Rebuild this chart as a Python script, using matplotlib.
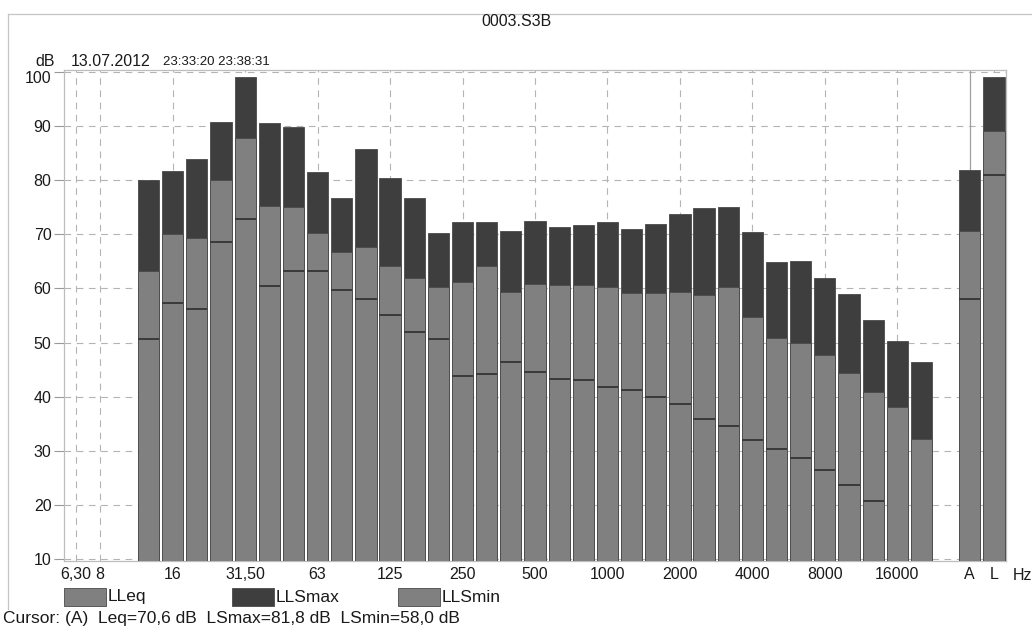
import numpy as np
import matplotlib
matplotlib.use('Agg')
import matplotlib.pyplot as plt
import matplotlib.transforms as mtransforms
from matplotlib.patches import Rectangle
from matplotlib.lines import Line2D

plt.rcParams['font.family'] = ['Liberation Sans', 'DejaVu Sans']

# 1/3-octave bands (6.3 Hz .. 20 kHz), an empty slot, then A and L totals
bands = ['6,3', '8', '10', '12,5', '16', '20', '25', '31,5', '40', '50', '63', '80',
         '100', '125', '160', '200', '250', '315', '400', '500', '630', '800',
         '1000', '1250', '1600', '2000', '2500', '3150', '4000', '5000', '6300',
         '8000', '10000', '12500', '16000', '20000', '', 'A', 'L']
nan = np.nan
ls_max = [nan, nan, nan, 80.0, 81.7, 83.8, 90.7, 99.0, 90.6, 89.8, 81.5, 76.7,
          85.8, 80.4, 76.7, 70.2, 72.2, 72.2, 70.6, 72.4, 71.4, 71.7,
          72.2, 70.9, 71.9, 73.8, 74.9, 75.1, 70.4, 64.9, 65.0,
          62.0, 59.0, 54.1, 50.3, 46.4, nan, 81.8, 99.1]
l_eq = [nan, nan, nan, 63.3, 70.0, 69.3, 80.0, 87.8, 75.2, 75.0, 70.3, 66.7,
        67.7, 64.1, 61.9, 60.3, 61.2, 64.2, 59.4, 60.9, 60.6, 60.7,
        60.3, 59.1, 59.2, 59.3, 58.7, 60.3, 54.7, 50.9, 50.0,
        47.7, 44.4, 40.9, 38.1, 32.3, nan, 70.6, 89.1]
ls_min = [nan, nan, nan, 50.6, 57.4, 56.2, 68.6, 72.8, 60.4, 63.3, 63.2, 59.8,
          58.0, 55.1, 51.9, 50.6, 43.9, 44.2, 46.5, 44.6, 43.2, 43.1,
          41.9, 41.2, 39.9, 38.6, 35.9, 34.7, 32.1, 30.3, 28.8,
          26.5, 23.8, 20.8, nan, nan, nan, 58.0, 80.9]

tick_bands = ['6,3', '8', '16', '31,5', '63', '125', '250', '500', '1000', '2000',
              '4000', '8000', '16000', 'A', 'L']
tick_labels = ['6,30', '8', '16', '31,50', '63', '125', '250', '500', '1000', '2000',
               '4000', '8000', '16000', 'A', 'L']
y_ticks = [10, 20, 30, 40, 50, 60, 70, 80, 90, 100]
legend_names = ['LLeq', 'LLSmax', 'LLSmin']
cursor_text = 'Cursor: (A)  Leq=70,6 dB  LSmax=81,8 dB  LSmin=58,0 dB'

DARK = '#3e3e3e'
GREY = '#808080'
EDGE = '#4a4a4a'
GRID = '#b4b4b4'
TXT = '#1a1a1a'

W, H = 1032, 628
fig = plt.figure(figsize=(W / 100, H / 100), dpi=100)
ax = fig.add_axes([64 / W, 1 - 560.5 / H, (1006 - 64) / W, (560.5 - 70) / H])

x = np.arange(len(bands))
mx = np.array(ls_max)
eq = np.array(l_eq)
mn = np.array(ls_min)
bw = 0.88

# grid first, under the bars
tick_pos = [bands.index(b) for b in tick_bands]
for yv in y_ticks:
    ax.axhline(yv, color=GRID, lw=0.8, ls=(0, (6, 5)), zorder=0)
for p, b in zip(tick_pos, tick_bands):
    if b == 'A':
        # cursor line
        ax.axvline(p, color='#a0a0a0', lw=0.9, zorder=0)
    else:
        ax.axvline(p, color=GRID, lw=0.8, ls=(0, (6, 5)), zorder=0)

ax.bar(x, mx, width=bw, bottom=0, color=DARK, edgecolor=EDGE, lw=0.6, zorder=2)
ax.bar(x, eq, width=bw, bottom=0, color=GREY, edgecolor=EDGE, lw=0.6, zorder=3)
ok = ~np.isnan(mn)
ax.hlines(mn[ok], x[ok] - bw / 2, x[ok] + bw / 2, colors='#3a3a3a', lw=1.4, zorder=4)

ax.set_xlim(-0.5, len(bands) - 0.5)
ax.set_ylim(9.8, 100.3)
ax.set_yticks(y_ticks)
ax.set_yticklabels([str(v) for v in y_ticks], fontsize=11.5, color=TXT)
ax.set_xticks(tick_pos)
ax.set_xticklabels(tick_labels, fontsize=11.5, color=TXT)
ax.tick_params(axis='y', length=7, width=0.8, color='#999999', pad=2)
ax.tick_params(axis='x', length=0, pad=5)
for s in ax.spines.values():
    s.set_color('#bdbdbd')
    s.set_linewidth(0.9)
# the top label sits a little lower, under the "dB" unit
top_lbl = ax.get_yticklabels()[-1]
top_lbl.set_transform(top_lbl.get_transform() +
                      mtransforms.ScaledTranslation(0, -5 / 100, fig.dpi_scale_trans))

# header / footer texts
fig.text(516 / W, 1 - 21 / H, '0003.S3B', ha='center', va='center', fontsize=11.5, color=TXT)
fig.text(45 / W, 1 - 62 / H, 'dB', ha='center', va='center', fontsize=11.5, color=TXT)
fig.text(71 / W, 1 - 61 / H, '13.07.2012', ha='left', va='center', fontsize=11.5, color=TXT)
fig.text(163 / W, 1 - 62 / H, '23:33:20 23:38:31', ha='left', va='center', fontsize=9.5, color=TXT)
fig.text(1022 / W, 1 - 576 / H, 'Hz', ha='center', va='center', fontsize=11.5, color=TXT)
fig.text(3 / W, 1 - 619 / H, cursor_text, ha='left', va='center', fontsize=12.5, color=TXT)

# legend drawn by hand
leg_x = [64, 232, 398]
leg_c = [GREY, DARK, GREY]
for lx, name, c in zip(leg_x, legend_names, leg_c):
    fig.add_artist(Rectangle((lx / W, 1 - 606 / H), 42 / W, 18 / H,
                             transform=fig.transFigure, facecolor=c, edgecolor=EDGE, lw=0.6))
    fig.text((lx + 44) / W, 1 - 597 / H, name, ha='left', va='center', fontsize=12.5, color=TXT)

# outer frame
fig.add_artist(Line2D([8 / W, 1.0], [1 - 14 / H, 1 - 14 / H], transform=fig.transFigure,
                      color='#c4c4c4', lw=0.9))
fig.add_artist(Line2D([8 / W, 8 / W], [1 - 14 / H, 1 - 609 / H], transform=fig.transFigure,
                      color='#c4c4c4', lw=0.9))

fig.savefig('out.png', dpi=100, facecolor='white')
